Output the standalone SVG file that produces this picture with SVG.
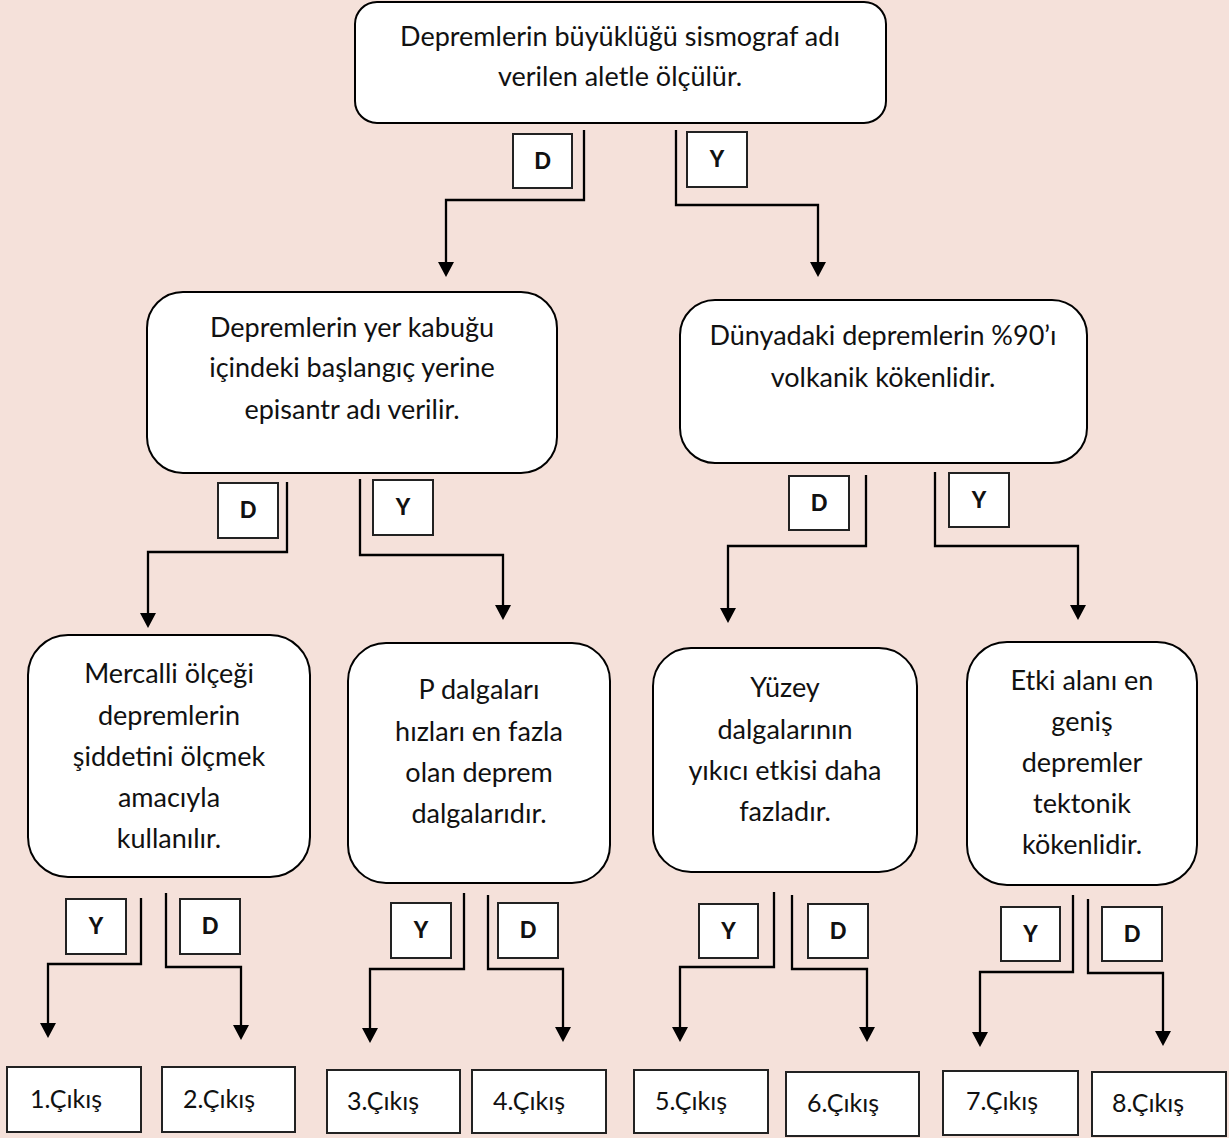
<svg xmlns="http://www.w3.org/2000/svg" width="1229" height="1138" viewBox="0 0 1229 1138">
<style>
.bg{fill:#F5E1DA}
.node rect{fill:#fff;stroke:#000;stroke-width:2}
.node text{font-family:Lato,"Open Sans","Liberation Sans",sans-serif;font-size:27px;fill:#111;text-anchor:middle}
.lbl rect{fill:#fff;stroke:#222;stroke-width:2}
.lbl text{font-family:Lato,"Liberation Sans",sans-serif;font-size:22px;font-weight:900;fill:#111;text-anchor:middle}
.out rect{fill:#fff;stroke:#222;stroke-width:2}
.out text{font-family:Lato,"Open Sans","Liberation Sans",sans-serif;font-size:25px;fill:#111}
.conn path{fill:none;stroke:#000;stroke-width:2.3;marker-end:url(#ah)}
</style>
<defs>
<marker id="ah" viewBox="0 0 15 16" refX="0" refY="8" markerWidth="15" markerHeight="16" markerUnits="userSpaceOnUse" orient="auto">
<path d="M0,0 L15,8 L0,16 z" fill="#000"/>
</marker>
</defs>
<rect class="bg" x="0" y="0" width="1229" height="1138"/>

<g id="connectors" class="conn">
<path d="M584,130 V200 H446 V262"/>
<path d="M676,130 V205 H818 V262"/>
<path d="M287,482 V552 H148 V613"/>
<path d="M360,479 V555 H503 V605"/>
<path d="M866,475 V546 H728 V608"/>
<path d="M935,472 V546 H1078 V605"/>
<path d="M141,898 V964 H48 V1023"/>
<path d="M166,893 V967 H241 V1025"/>
<path d="M464,893 V969 H370 V1028"/>
<path d="M488,895 V969 H563 V1027"/>
<path d="M774,892 V967 H680 V1027"/>
<path d="M792,895 V969 H867 V1027"/>
<path d="M1073,895 V972 H980 V1032"/>
<path d="M1088,899 V973 H1163 V1031"/>
</g>

<g id="n-top" class="node">
<rect x="355" y="2" width="531" height="121" rx="22"/>
<text x="620" y="46">Depremlerin büyüklüğü sismograf adı</text>
<text x="620" y="86">verilen aletle ölçülür.</text>
</g>
<g id="n-episantr" class="node">
<rect x="147" y="292" width="410" height="181" rx="36"/>
<text x="352" y="337">Depremlerin yer kabuğu</text>
<text x="352" y="377">içindeki başlangıç yerine</text>
<text x="352" y="419">episantr adı verilir.</text>
</g>
<g id="n-volkanik" class="node">
<rect x="680" y="300" width="407" height="163" rx="35"/>
<text x="883" y="345">Dünyadaki depremlerin %90’ı</text>
<text x="883" y="387">volkanik kökenlidir.</text>
</g>
<g id="n-mercalli" class="node">
<rect x="28" y="635" width="282" height="242" rx="40"/>
<text x="169" y="683">Mercalli ölçeği</text>
<text x="169" y="724.5">depremlerin</text>
<text x="169" y="766">şiddetini ölçmek</text>
<text x="169" y="807">amacıyla</text>
<text x="169" y="848">kullanılır.</text>
</g>
<g id="n-p" class="node">
<rect x="348" y="643" width="262" height="240" rx="38"/>
<text x="479" y="699">P dalgaları</text>
<text x="479" y="740.5">hızları en fazla</text>
<text x="479" y="782">olan deprem</text>
<text x="479" y="823">dalgalarıdır.</text>
</g>
<g id="n-yuzey" class="node">
<rect x="653" y="648" width="264" height="224" rx="38"/>
<text x="785" y="697">Yüzey</text>
<text x="785" y="738.5">dalgalarının</text>
<text x="785" y="779.5">yıkıcı etkisi daha</text>
<text x="785" y="820.5">fazladır.</text>
</g>
<g id="n-etki" class="node">
<rect x="967" y="642" width="230" height="243" rx="40"/>
<text x="1082" y="690">Etki alanı en</text>
<text x="1082" y="731">geniş</text>
<text x="1082" y="772">depremler</text>
<text x="1082" y="813">tektonik</text>
<text x="1082" y="854">kökenlidir.</text>
</g>

<g id="l-top-d" class="lbl"><rect x="513" y="134" width="59" height="54"/><text x="542.5" y="169">D</text></g>
<g id="l-top-y" class="lbl"><rect x="687" y="132" width="60" height="55"/><text x="717" y="167">Y</text></g>
<g id="l-ep-d" class="lbl"><rect x="218" y="483" width="60" height="55"/><text x="248" y="518">D</text></g>
<g id="l-ep-y" class="lbl"><rect x="373" y="480" width="60" height="55"/><text x="403" y="515">Y</text></g>
<g id="l-vo-d" class="lbl"><rect x="789" y="476" width="60" height="54"/><text x="819" y="511">D</text></g>
<g id="l-vo-y" class="lbl"><rect x="949" y="473" width="60" height="54"/><text x="979" y="508">Y</text></g>
<g id="l-me-y" class="lbl"><rect x="66" y="899" width="60" height="55"/><text x="96" y="934">Y</text></g>
<g id="l-me-d" class="lbl"><rect x="180" y="899" width="60" height="55"/><text x="210" y="934">D</text></g>
<g id="l-p-y" class="lbl"><rect x="391" y="903" width="60" height="55"/><text x="421" y="938">Y</text></g>
<g id="l-p-d" class="lbl"><rect x="498" y="903" width="60" height="55"/><text x="528" y="938">D</text></g>
<g id="l-yu-y" class="lbl"><rect x="699" y="904" width="59" height="54"/><text x="728.5" y="939">Y</text></g>
<g id="l-yu-d" class="lbl"><rect x="808" y="904" width="60" height="54"/><text x="838" y="939">D</text></g>
<g id="l-et-y" class="lbl"><rect x="1001" y="907" width="59" height="54"/><text x="1030.5" y="942">Y</text></g>
<g id="l-et-d" class="lbl"><rect x="1102" y="907" width="60" height="54"/><text x="1132" y="942">D</text></g>

<g id="o1" class="out"><rect x="7" y="1067" width="134" height="65"/><text x="30" y="1108">1.Çıkış</text></g>
<g id="o2" class="out"><rect x="162" y="1067" width="133" height="65"/><text x="183" y="1108">2.Çıkış</text></g>
<g id="o3" class="out"><rect x="327" y="1070" width="133" height="63"/><text x="347" y="1110">3.Çıkış</text></g>
<g id="o4" class="out"><rect x="472" y="1070" width="134" height="63"/><text x="493" y="1110">4.Çıkış</text></g>
<g id="o5" class="out"><rect x="634" y="1070" width="134" height="63"/><text x="655" y="1110">5.Çıkış</text></g>
<g id="o6" class="out"><rect x="786" y="1072" width="133" height="64"/><text x="807" y="1112">6.Çıkış</text></g>
<g id="o7" class="out"><rect x="943" y="1071" width="135" height="64"/><text x="966" y="1110">7.Çıkış</text></g>
<g id="o8" class="out"><rect x="1092" y="1072" width="134" height="64"/><text x="1112" y="1112">8.Çıkış</text></g>
</svg>
